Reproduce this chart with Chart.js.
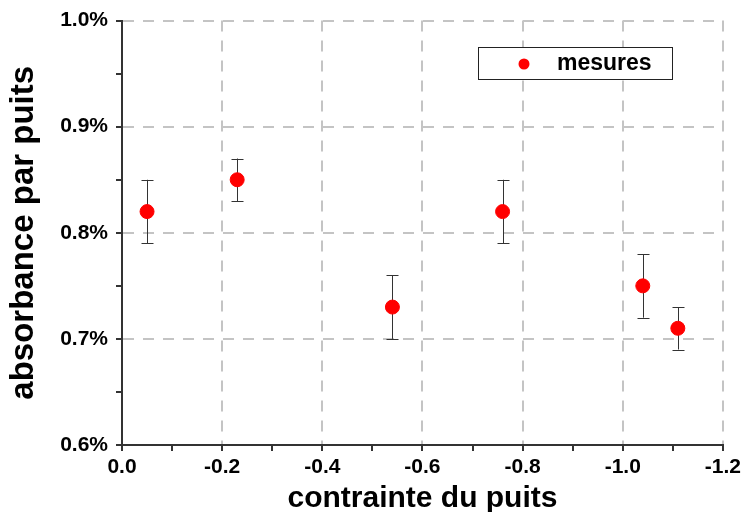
<!DOCTYPE html>
<html>
<head>
<meta charset="utf-8">
<script src="https://cdn.jsdelivr.net/npm/chart.js@4"></script>
<style>
  html, body { margin: 0; padding: 0; background: #fff; }
  #wrap { width: 745px; height: 512px; }
</style>
</head>
<body>
<div id="wrap"><canvas id="chart" width="745" height="512"></canvas></div>
<script>
// contrainte du puits (x) et absorbance en % (y)
const contrainte = [-0.05, -0.23, -0.54, -0.76, -1.04, -1.11];
const absorbance = [0.82, 0.85, 0.73, 0.82, 0.75, 0.71];
const erreurHaut = [0.03, 0.02, 0.03, 0.03, 0.03, 0.02];
const erreurBas = [0.03, 0.02, 0.03, 0.03, 0.03, 0.02];
const xTicks = ['0.0', '-0.2', '-0.4', '-0.6', '-0.8', '-1.0', '-1.2'];
const yTicks = ['0.6%', '0.7%', '0.8%', '0.9%', '1.0%'];

const FONT = '"Liberation Sans", Arial, sans-serif';

// barres d'erreur + légende dans le cadre
const errorBars = {
    id: 'errorBars',
    beforeDatasetsDraw(chart) {
        const ctx = chart.ctx;
        const xs = chart.scales.x, ys = chart.scales.y;
        ctx.save();
        ctx.strokeStyle = '#333';
        ctx.lineWidth = 1;
        contrainte.forEach((cx, i) => {
            const px = Math.round(xs.getPixelForValue(cx)) + 0.5;
            const top = ys.getPixelForValue(absorbance[i] + erreurHaut[i]);
            const bot = ys.getPixelForValue(absorbance[i] - erreurBas[i]);
            ctx.beginPath();
            ctx.moveTo(px, top); ctx.lineTo(px, bot);
            ctx.moveTo(px - 6, Math.round(top) + 0.5); ctx.lineTo(px + 6, Math.round(top) + 0.5);
            ctx.moveTo(px - 6, Math.round(bot) + 0.5); ctx.lineTo(px + 6, Math.round(bot) + 0.5);
            ctx.stroke();
        });
        ctx.restore();
    },
    afterDatasetsDraw(chart) {
        const ctx = chart.ctx;
        ctx.save();
        ctx.fillStyle = '#fff';
        ctx.strokeStyle = '#222';
        ctx.lineWidth = 1;
        ctx.fillRect(478, 47, 194, 32);
        ctx.strokeRect(478.5, 47.5, 194, 32);
        ctx.fillStyle = '#ff0000';
        ctx.beginPath();
        ctx.arc(524, 64, 5.5, 0, Math.PI * 2);
        ctx.fill();
        ctx.fillStyle = '#000';
        ctx.font = 'bold 23px ' + FONT;
        ctx.textBaseline = 'middle';
        ctx.fillText(chart.data.datasets[0].label, 557, 64);
        ctx.restore();
    }
};

const isMajor = (v) => Math.abs(Math.round(v * 10) % 2) === 0;
const isMajorY = (v) => Math.abs(Math.round(v * 20) % 2) === 0;

new Chart(document.getElementById('chart'), {
    type: 'scatter',
    data: {
        datasets: [{
            label: 'mesures',
            data: contrainte.map((x, i) => ({ x: x, y: absorbance[i] })),
            backgroundColor: '#ff0000',
            borderColor: '#ff0000',
            pointRadius: 7,
            pointHoverRadius: 7
        }]
    },
    options: {
        responsive: false,
        animation: false,
        layout: { padding: { left: 0, right: 19, top: 19, bottom: 0 } },
        plugins: {
            legend: { display: false },
            tooltip: { enabled: false }
        },
        scales: {
            x: {
                type: 'linear',
                min: -1.2,
                max: 0,
                reverse: true,
                afterFit: (s) => { s.height = 67; },
                border: { display: true, color: '#333', width: 2, dash: [11, 9] },
                grid: {
                    color: (c) => isMajor(c.tick.value) ? '#c4c4c4' : 'rgba(0,0,0,0)',
                    lineWidth: 2,
                    tickColor: '#333',
                    tickLength: 6,
                    tickBorderDash: [],
                    drawTicks: true
                },
                ticks: {
                    stepSize: 0.1,
                    padding: 4,
                    color: '#000',
                    maxRotation: 0,
                    autoSkip: false,
                    font: { family: FONT, size: 21, weight: 'bold' },
                    callback: (v) => isMajor(v) ? xTicks[Math.round(-v * 5)] : ''
                },
                title: {
                    display: true,
                    text: 'contrainte du puits',
                    color: '#000',
                    padding: { top: 0, bottom: -5 },
                    font: { family: FONT, size: 30, weight: 'bold' }
                }
            },
            y: {
                min: 0.6,
                max: 1.0,
                afterFit: (s) => { s.width = 122; },
                border: { display: true, color: '#333', width: 2, dash: [11, 9] },
                grid: {
                    color: (c) => isMajorY(c.tick.value) ? '#c4c4c4' : 'rgba(0,0,0,0)',
                    lineWidth: 2,
                    tickColor: '#333',
                    tickLength: 6,
                    tickBorderDash: []
                },
                ticks: {
                    stepSize: 0.05,
                    padding: 8,
                    color: '#000',
                    autoSkip: false,
                    font: { family: FONT, size: 21, weight: 'bold' },
                    callback: (v) => isMajorY(v) ? yTicks[Math.round((v - 0.6) * 10)] : ''
                },
                title: {
                    display: true,
                    text: 'absorbance par puits',
                    color: '#000',
                    padding: { top: 4, bottom: 0 },
                    font: { family: FONT, size: 33, weight: 'bold' }
                }
            }
        }
    },
    plugins: [errorBars]
});
</script>
</body>
</html>
